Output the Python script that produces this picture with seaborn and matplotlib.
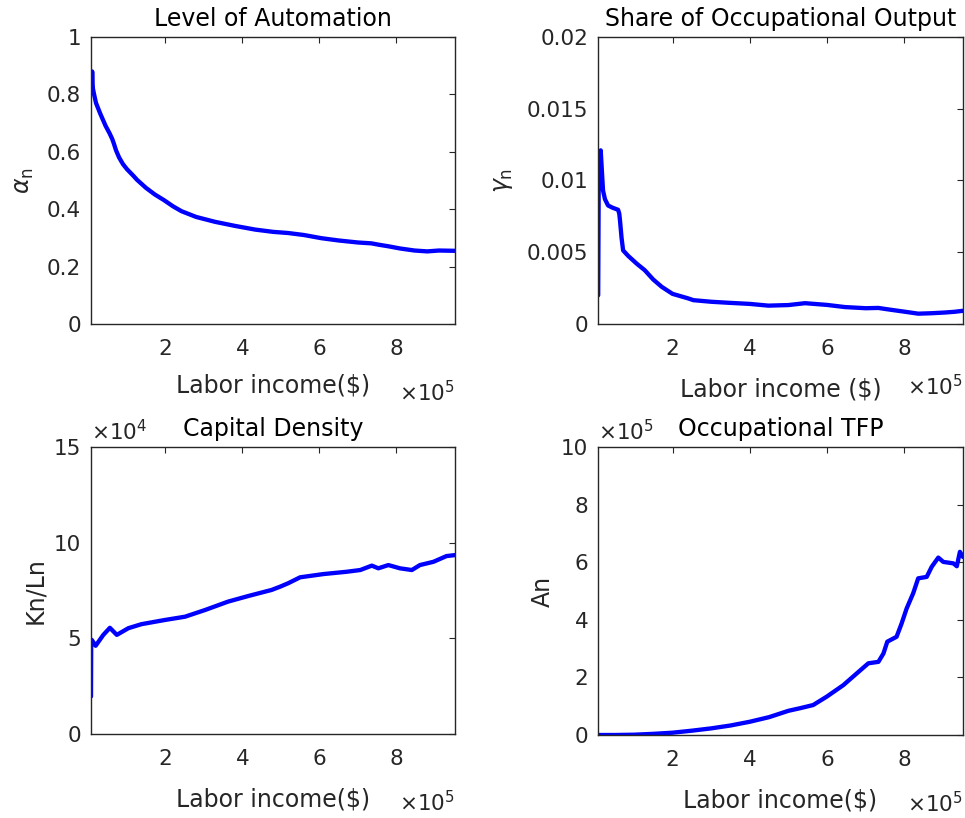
import matplotlib
matplotlib.use("Agg")
import matplotlib.pyplot as plt
import seaborn as sns
import pandas as pd

# ---------------- data ----------------
# Level of automation alpha_n vs labor income ($)
alpha_income = [7e3, 8e3, 9e3, 1.0e4, 1.1e4, 1.2e4, 1.5e4, 2.0e4, 3.1e4, 4.5e4, 5.5e4,
                6.2e4, 6.6e4, 7.2e4, 8.0e4, 9.0e4, 1.0e5, 1.18e5, 1.26e5, 1.5e5, 1.73e5,
                1.96e5, 2.2e5, 2.42e5, 2.8e5, 3.29e5, 3.8e5, 4.33e5, 4.8e5, 5.19e5, 5.6e5,
                6.05e5, 6.5e5, 7.0e5, 7.35e5, 7.55e5, 7.78e5, 8.1e5, 8.47e5, 8.8e5, 9.1e5, 9.52e5]
alpha_n = [0.81, 0.87, 0.82, 0.88, 0.84, 0.82, 0.80, 0.77, 0.733, 0.69, 0.665,
           0.645, 0.63, 0.605, 0.58, 0.557, 0.54, 0.515, 0.503, 0.474, 0.451,
           0.432, 0.41, 0.393, 0.373, 0.356, 0.342, 0.329, 0.321, 0.317, 0.31,
           0.299, 0.291, 0.284, 0.281, 0.276, 0.271, 0.263, 0.256, 0.253, 0.256, 0.255]

# Share of occupational output gamma_n
gamma_income = [7.5e3, 9e3, 1.4e4, 2.0e4, 2.5e4, 3.3e4, 4.5e4, 5.9e4, 6.2e4, 6.4e4, 6.8e4,
                7.2e4, 8.5e4, 1.07e5, 1.28e5, 1.5e5, 1.72e5, 2.0e5, 2.41e5, 2.54e5, 3.0e5,
                3.44e5, 4.0e5, 4.48e5, 5.0e5, 5.43e5, 6.0e5, 6.46e5, 7.0e5, 7.33e5, 7.5e5,
                7.76e5, 8.0e5, 8.36e5, 8.7e5, 9.05e5, 9.3e5, 9.52e5]
gamma_n = [0.0020, 0.0110, 0.0121, 0.0093, 0.0087, 0.00826, 0.0081, 0.00796, 0.0077, 0.0072, 0.0060,
           0.00513, 0.00475, 0.00421, 0.00375, 0.0031, 0.00259, 0.0021, 0.00178, 0.00166, 0.00155,
           0.00148, 0.00140, 0.00128, 0.00132, 0.00145, 0.00133, 0.00118, 0.00110, 0.00112, 0.00105,
           0.00095, 0.00086, 0.00072, 0.00075, 0.00080, 0.00085, 0.00092]

# Capital density Kn/Ln
kl_income = [7e3, 7.5e3, 9e3, 1.9e4, 3.9e4, 5.6e4, 7.4e4, 1.04e5, 1.38e5, 1.99e5, 2.51e5,
             3.03e5, 3.63e5, 4.15e5, 4.76e5, 4.98e5, 5.19e5, 5.5e5, 6.11e5, 6.71e5, 7.06e5,
             7.36e5, 7.53e5, 7.79e5, 8.09e5, 8.40e5, 8.61e5, 8.96e5, 9.30e5, 9.52e5]
kn_ln = [1.96e4, 4.6e4, 4.92e4, 4.61e4, 5.18e4, 5.55e4, 5.18e4, 5.53e4, 5.74e4, 5.96e4, 6.13e4,
         6.48e4, 6.92e4, 7.21e4, 7.53e4, 7.70e4, 7.88e4, 8.19e4, 8.36e4, 8.48e4, 8.57e4,
         8.80e4, 8.66e4, 8.83e4, 8.66e4, 8.57e4, 8.83e4, 9.00e4, 9.30e4, 9.35e4]

# Occupational TFP An
tfp_income = [7.5e3, 5e4, 1.0e5, 1.5e5, 2.0e5, 2.5e5, 3.0e5, 3.5e5, 4.0e5, 4.5e5, 5.0e5,
              5.3e5, 5.64e5, 5.99e5, 6.42e5, 6.77e5, 7.07e5, 7.33e5, 7.46e5, 7.56e5, 7.80e5,
              7.93e5, 8.06e5, 8.23e5, 8.36e5, 8.58e5, 8.71e5, 8.88e5, 9.01e5, 9.27e5, 9.36e5,
              9.44e5, 9.52e5]
a_n = [0.0, 0.0, 0.01e5, 0.04e5, 0.08e5, 0.15e5, 0.23e5, 0.33e5, 0.46e5, 0.62e5, 0.84e5,
       0.93e5, 1.04e5, 1.33e5, 1.73e5, 2.14e5, 2.49e5, 2.54e5, 2.83e5, 3.24e5, 3.41e5,
       3.87e5, 4.39e5, 4.92e5, 5.44e5, 5.49e5, 5.84e5, 6.16e5, 6.01e5, 5.96e5, 5.86e5,
       6.36e5, 6.18e5]

titles = ["Level of Automation", "Share of Occupational Output", "Capital Density", "Occupational TFP"]
xlabels = ["Labor income($)", "Labor income ($)", "Labor income($)", "Labor income($)"]
ylabels = [r"$\alpha_{\rm n}$", r"$\gamma_{\rm n}$", "Kn/Ln", "An"]
yticks = [[0, 0.2, 0.4, 0.6, 0.8, 1.0],
          [0, 0.005, 0.01, 0.015, 0.02],
          [0, 5e4, 10e4, 15e4],
          [0, 2e5, 4e5, 6e5, 8e5, 10e5]]
yticklabels = [["0", "0.2", "0.4", "0.6", "0.8", "1"],
               ["0", "0.005", "0.01", "0.015", "0.02"],
               ["0", "5", "10", "15"],
               ["0", "2", "4", "6", "8", "10"]]
xticks = [2e5, 4e5, 6e5, 8e5]
xticklabels = ["2", "4", "6", "8"]
y_exponents = [None, None, r"$\times10^{4}$", r"$\times10^{5}$"]

# ---------------- style ----------------
sns.set_style("white")
plt.rcParams["font.family"] = ["DejaVu Sans"]
plt.rcParams["mathtext.fontset"] = "dejavusans"

fig = plt.figure(figsize=(9.65, 8.18), dpi=100)
W, H = 965.0, 818.0
boxes = [(91, 37, 455, 324), (598, 37, 963, 324), (91, 447, 455, 734), (598, 447, 963, 735)]
series = [(alpha_income, alpha_n), (gamma_income, gamma_n), (kl_income, kn_ln), (tfp_income, a_n)]
ylab_x = [-0.151, -0.227, -0.121, -0.118]
xlab_y = [-0.174, -0.185, -0.185, -0.185]
xexp_y = [-0.195, -0.175, -0.195, -0.195]
gray = "#262626"

for i in range(4):
    x0, y0, x1, y1 = boxes[i]
    ax = fig.add_axes([x0 / W, 1 - y1 / H, (x1 - x0) / W, (y1 - y0) / H])
    df = pd.DataFrame({"income": series[i][0], "value": series[i][1]})
    sns.lineplot(data=df, x="income", y="value", ax=ax, color="#0000ff", lw=3.1,
                 estimator=None, sort=False)
    ax.set_xlim(7e3, 9.52e5)
    ax.set_ylim(yticks[i][0], yticks[i][-1])
    ax.set_xticks(xticks)
    ax.set_xticklabels(xticklabels)
    ax.set_yticks(yticks[i])
    ax.set_yticklabels(yticklabels[i])
    for s in ax.spines.values():
        s.set_visible(True)
        s.set_color(gray)
        s.set_linewidth(1.0)
    ax.tick_params(direction="in", length=4, width=0.8, top=True, right=True,
                   labelsize=15.5, colors=gray)
    ax.tick_params(axis="x", pad=11)
    ax.tick_params(axis="y", pad=7)
    ax.set_title(titles[i], fontsize=17, color="black", pad=8)
    ax.set_xlabel(xlabels[i], fontsize=17, color=gray)
    ax.set_ylabel(ylabels[i], fontsize=17, color=gray)
    ax.xaxis.set_label_coords(0.5, xlab_y[i])
    ax.yaxis.set_label_coords(ylab_x[i], 0.5)
    ax.text(1.0, xexp_y[i], r"$\times10^{5}$", transform=ax.transAxes, ha="right", va="top",
            fontsize=15.5, color=gray)
    if y_exponents[i]:
        ax.text(0.0, 1.01, y_exponents[i], transform=ax.transAxes, ha="left", va="bottom",
                fontsize=15.5, color=gray)

fig.savefig("out.png", dpi=100, facecolor="white")
